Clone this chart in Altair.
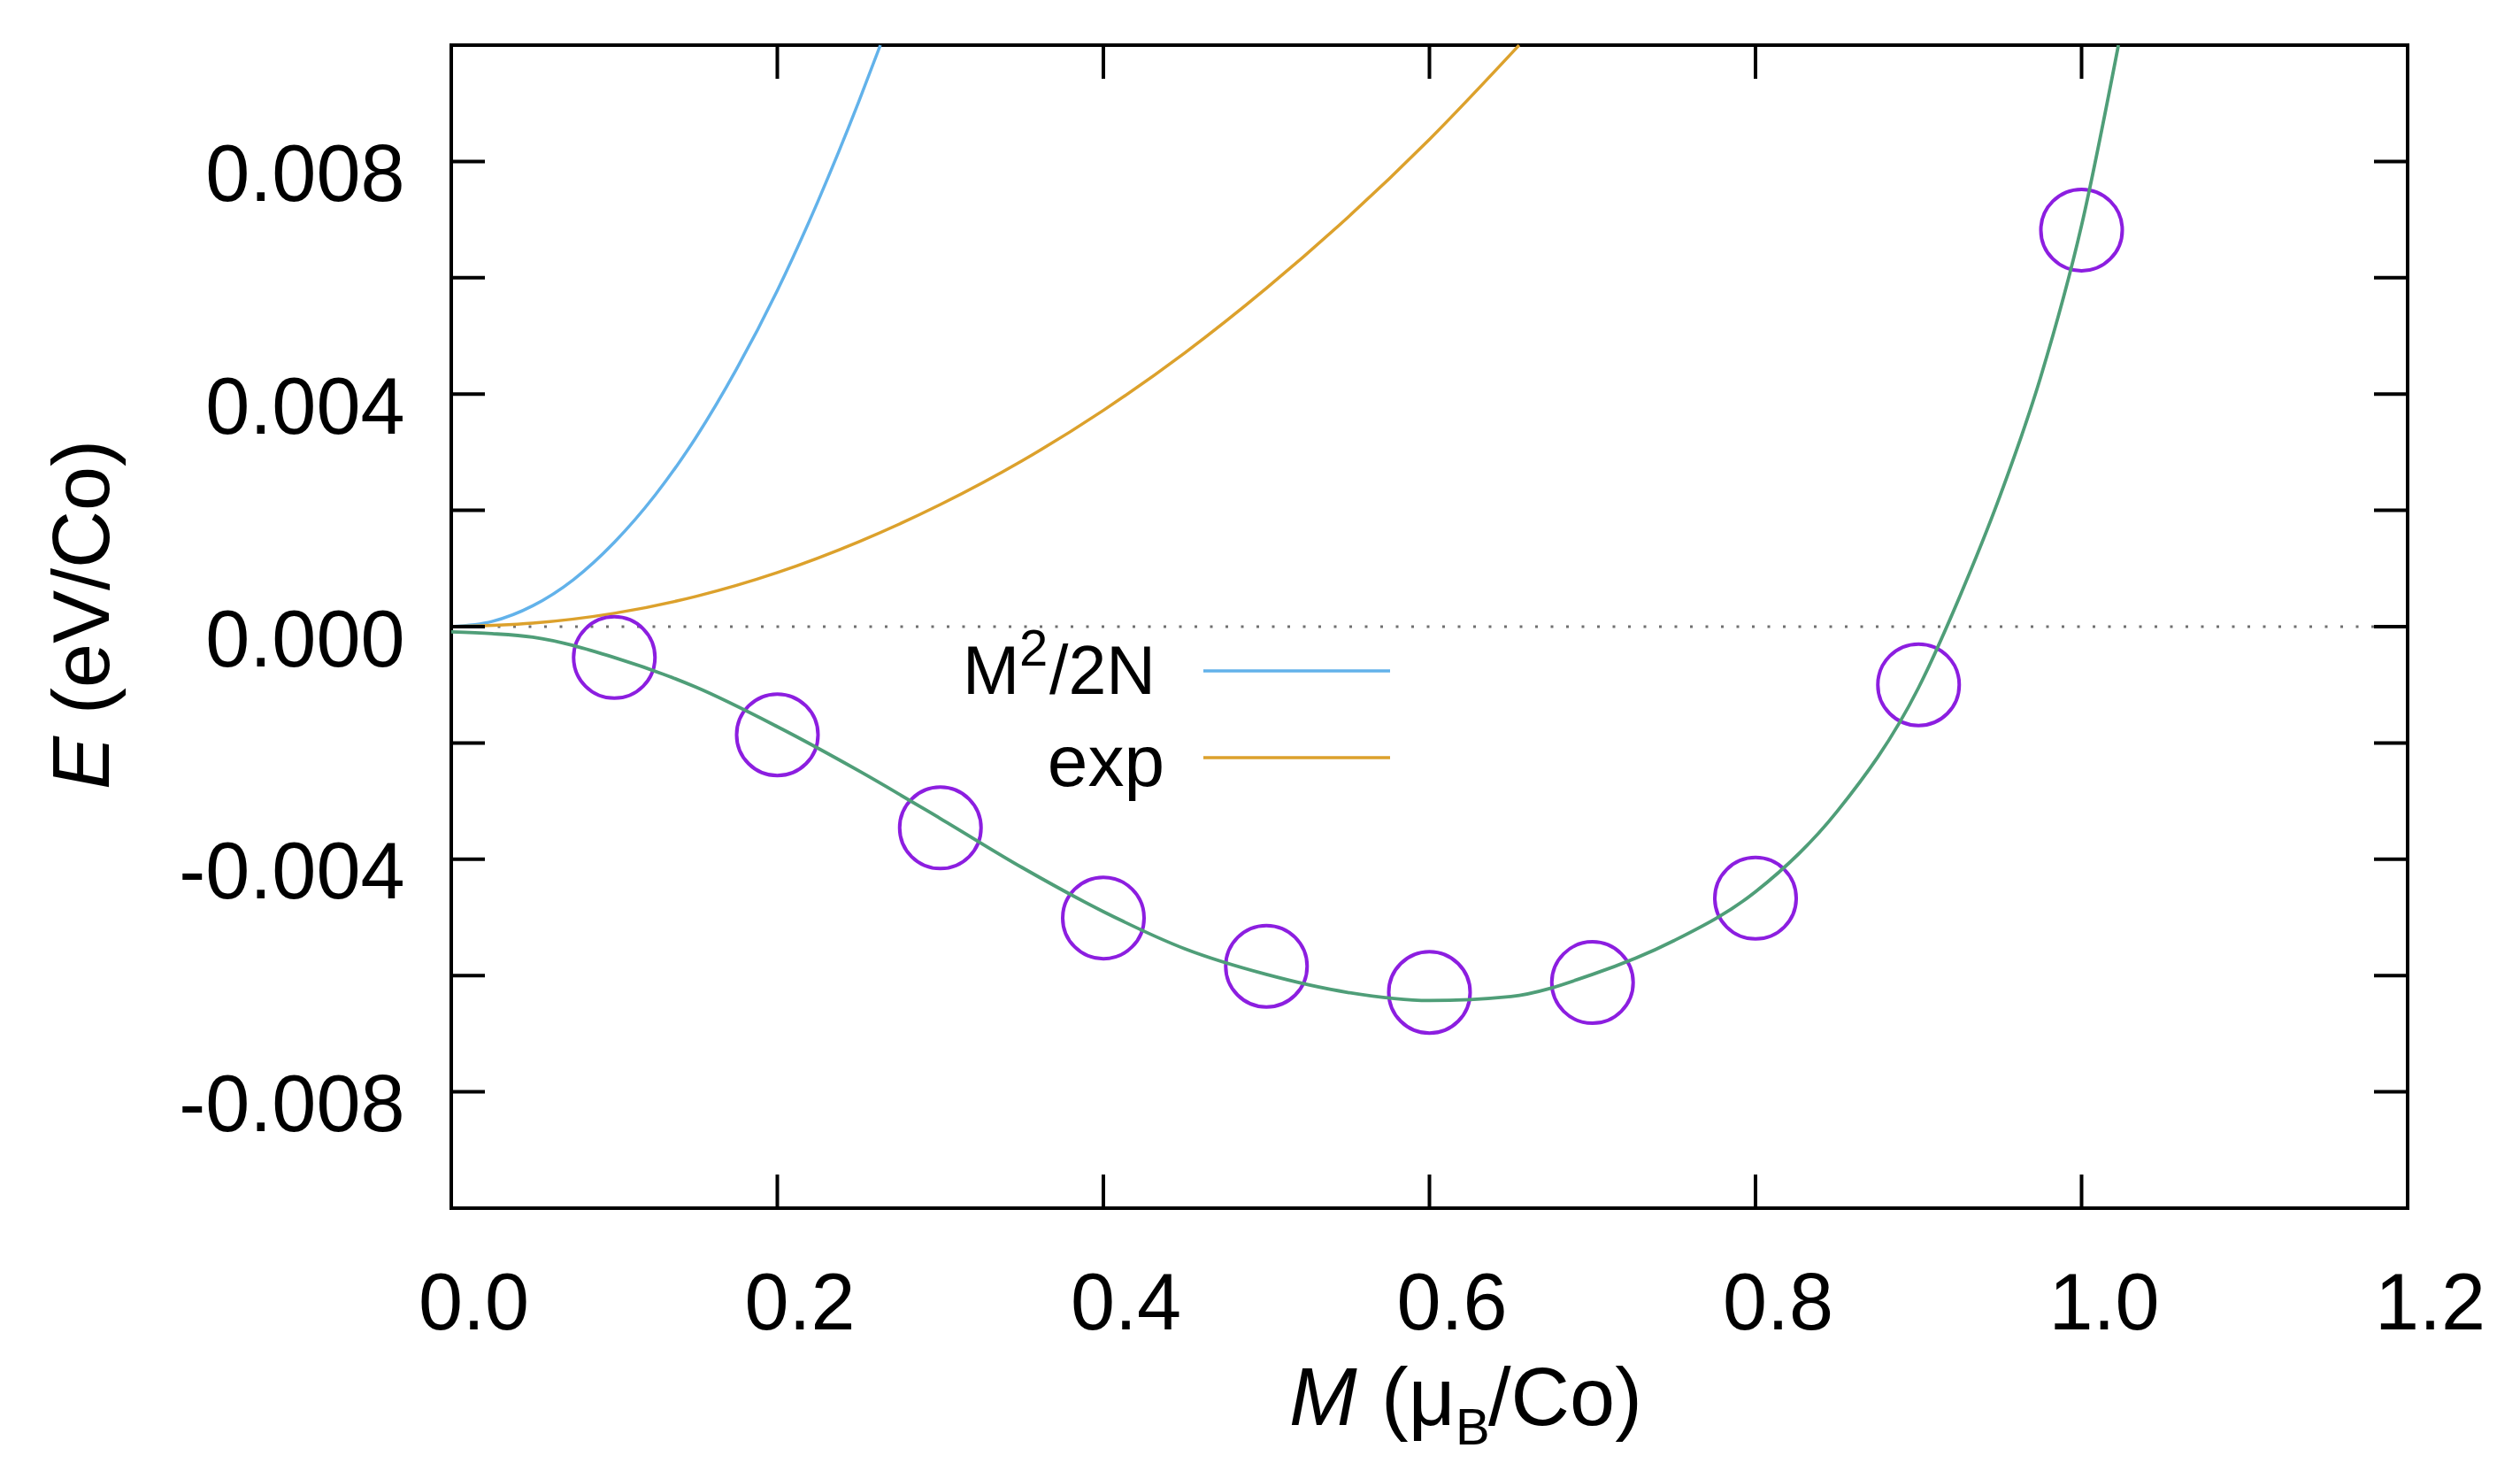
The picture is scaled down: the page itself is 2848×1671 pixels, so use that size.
import altair as alt
import pandas as pd

# ---------------- data ----------------
# DFT points (circles)
M_dft = [0.1, 0.2, 0.3, 0.4, 0.5, 0.6, 0.7, 0.8, 0.9, 1.0]
E_dft = [-0.00053, -0.00186, -0.00346, -0.00501, -0.00584, -0.00629, -0.00612, -0.00467, -0.00100, 0.00682]

# fitted curve (green)
M_fit = [0.0, 0.025, 0.05, 0.1, 0.15, 0.2, 0.25, 0.3, 0.35, 0.4, 0.45, 0.5, 0.55, 0.6, 0.65, 0.7,
         0.75, 0.8, 0.85, 0.9, 0.925, 0.95, 0.975, 1.0, 1.0226]
E_fit = [-0.00009, -0.00012, -0.00018, -0.00053, -0.00104, -0.00172, -0.00248, -0.00330, -0.00414,
         -0.00490, -0.00554, -0.00598, -0.00629, -0.00643, -0.00636, -0.00598, -0.00540, -0.00456,
         -0.00318, -0.00105, 0.00050, 0.00225, 0.00430, 0.00690, 0.01000]

# M^2/2N curve (blue)
M_quad = [0.0, 0.025, 0.05, 0.075, 0.1, 0.125, 0.15, 0.175, 0.2, 0.225, 0.25, 0.2632]
E_quad = [0.0, 0.00009, 0.00036, 0.00081, 0.00145, 0.00226, 0.00325, 0.00443, 0.00578, 0.00732, 0.00903, 0.01000]

# exp curve (orange)
M_exp = [0.0, 0.05, 0.1, 0.15, 0.2, 0.25, 0.3, 0.35, 0.4, 0.45, 0.5, 0.55, 0.6, 0.655]
E_exp = [0.0, 0.00006, 0.00023, 0.00052, 0.00093, 0.00146, 0.00210, 0.00285, 0.00372, 0.00471,
         0.00582, 0.00704, 0.00838, 0.01000]

x_ticks = [0.2, 0.4, 0.6, 0.8, 1.0]
x_labels = [0.0, 0.2, 0.4, 0.6, 0.8, 1.0, 1.2]
y_ticks = [-0.008, -0.006, -0.004, -0.002, 0.0, 0.002, 0.004, 0.006, 0.008]
y_labels = [-0.008, -0.004, 0.0, 0.004, 0.008]

legend_names = ["M²/2N", "exp"]

# ---------------- styling ----------------
W, H = 2211, 1314
TICK = 38
C_BLUE = "#62b2ea"
C_ORANGE = "#dca12c"
C_GREEN = "#4f9e78"
C_PURPLE = "#8c1ee0"
FONT = "Liberation Sans"

xs = alt.Scale(domain=[0, 1.2], nice=False, zero=False)
ys = alt.Scale(domain=[-0.01, 0.01], nice=False, zero=False)

x_axis = alt.Axis(values=x_labels, format=".1f", title=None, grid=False, domain=False,
                  ticks=False, tickSize=0, labelFont=FONT, labelFontSize=90, labelColor="black",
                  labelPadding=65, labelOffset=25, labelFlush=False, labelOverlap=False, labelLimit=0)
y_axis = alt.Axis(values=y_labels, title=None, grid=False, domain=False, ticks=False, tickSize=0,
                  labelExpr="datum.value < 0 ? '-' + format(-datum.value, '.3f') : format(datum.value, '.3f')",
                  labelFont=FONT, labelFontSize=90, labelColor="black", labelPadding=53, labelOffset=17,
                  labelFlush=False, labelOverlap=False, labelLimit=0)


def X(f):
    return alt.X(f, type="quantitative", scale=xs, axis=x_axis)


def Y(f):
    return alt.Y(f, type="quantitative", scale=ys, axis=y_axis)


df_dft = pd.DataFrame({"M": M_dft, "E": E_dft})
df_fit = pd.DataFrame({"M": M_fit, "E": E_fit})
df_quad = pd.DataFrame({"M": M_quad, "E": E_quad})
df_exp = pd.DataFrame({"M": M_exp, "E": E_exp})
df_xt = pd.DataFrame({"v": x_ticks})
df_yt = pd.DataFrame({"v": y_ticks})
df_zero = pd.DataFrame({"E": [0.0]})
one = pd.DataFrame({"k": [0]})

zero_line = alt.Chart(df_zero).mark_rule(color="#707070", strokeWidth=3, strokeDash=[3, 14.5]).encode(
    y=Y("E"), x=alt.value(0), x2=alt.value(W))

blue = alt.Chart(df_quad).mark_line(color=C_BLUE, strokeWidth=3.5, interpolate="monotone").encode(
    x=X("M"), y=Y("E"))
orange = alt.Chart(df_exp).mark_line(color=C_ORANGE, strokeWidth=3.5, interpolate="monotone").encode(
    x=X("M"), y=Y("E"))
circles = alt.Chart(df_dft).mark_point(shape="circle", filled=False, size=8464, strokeWidth=4,
                                       color=C_PURPLE, opacity=1).encode(x=X("M"), y=Y("E"))
green = alt.Chart(df_fit).mark_line(color=C_GREEN, strokeWidth=3.8, interpolate="monotone").encode(
    x=X("M"), y=Y("E"))

tick_style = dict(color="black", strokeWidth=4)
t_bottom = alt.Chart(df_xt).mark_rule(**tick_style).encode(x=X("v"), y=alt.value(H), y2=alt.value(H - TICK))
t_top = alt.Chart(df_xt).mark_rule(**tick_style).encode(x=X("v"), y=alt.value(0), y2=alt.value(TICK))
t_left = alt.Chart(df_yt).mark_rule(**tick_style).encode(y=Y("v"), x=alt.value(0), x2=alt.value(TICK))
t_right = alt.Chart(df_yt).mark_rule(**tick_style).encode(y=Y("v"), x=alt.value(W), x2=alt.value(W - TICK))


def txt(s, x, y, size, italic=False, align="left", angle=0, font=FONT):
    return alt.Chart(one).mark_text(text=s, font=font, fontSize=size,
                                    fontStyle="italic" if italic else "normal",
                                    align=align, baseline="alphabetic", angle=angle,
                                    color="black").encode(x=alt.value(x), y=alt.value(y))


def seg(x1, x2, y, color):
    return alt.Chart(one).mark_rule(color=color, strokeWidth=3.5).encode(
        x=alt.value(x1), x2=alt.value(x2), y=alt.value(y))


# legend (labels to the left of the line samples)
leg = [
    txt("M", 578, 733, 77),
    txt("2", 642, 701, 58),
    txt("/2N", 676, 733, 77),
    seg(850, 1061, 707, C_BLUE),
    txt(legend_names[1], 806, 837, 82, align="right"),
    seg(850, 1061, 805, C_ORANGE),
]

# axis titles with italic symbols and subscript
titles = [
    txt("M", 947, 1559, 92, italic=True),
    txt("(μ", 1051, 1559, 92),
    txt("B", 1135, 1581, 58),
    txt("/Co)", 1172, 1559, 92),
    txt("E", -387, 841, 90, italic=True, angle=270),
    txt("(eV/Co)", -387, 756, 90, angle=270),
]

chart = alt.layer(
    zero_line, blue, orange, circles, green, t_bottom, t_top, t_left, t_right, *leg, *titles
).properties(
    width=W, height=H,
    padding={"left": 502, "top": 43, "right": 119, "bottom": 290},
    autosize=alt.AutoSizeParams(type="none"),
    background="white",
).configure_view(stroke="black", strokeWidth=4)

chart.save("out.html", embed_options={"renderer": "svg", "actions": False})
